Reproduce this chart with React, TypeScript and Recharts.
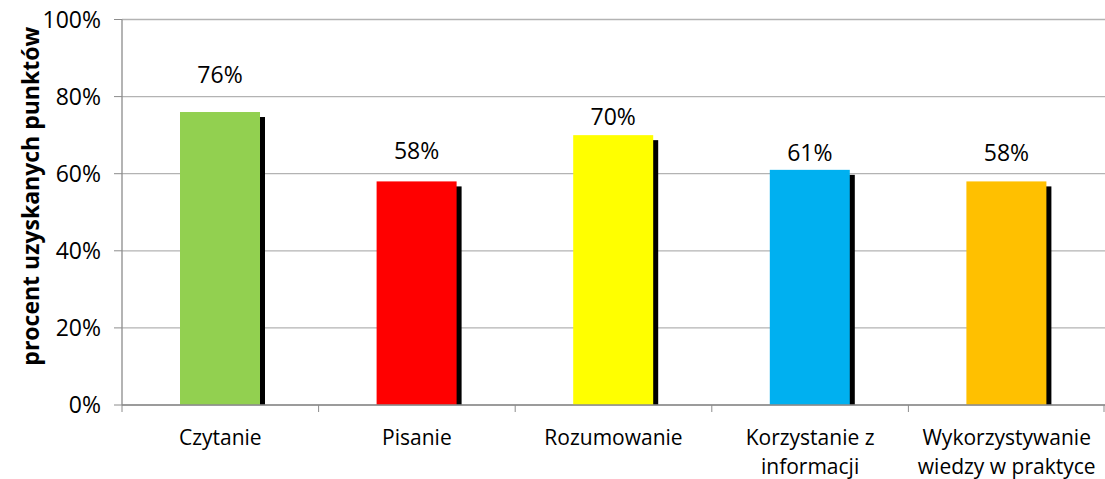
import { BarChart, Bar, XAxis, YAxis, CartesianGrid, LabelList } from "recharts";

const categories = [
  "Czytanie",
  "Pisanie",
  "Rozumowanie",
  "Korzystanie z informacji",
  "Wykorzystywanie wiedzy w praktyce",
];
const values = [76, 58, 70, 61, 58];
const colors = ["#92D050", "#FF0000", "#FFFF00", "#00B0F0", "#FFC000"];
const yTicks = [0, 20, 40, 60, 80, 100];

// Excel placed the value labels by hand, so each one sits at its own height
const labelLift = [38, 31, 19, 18, 29];

const data = categories.map((name, i) => ({ name, value: values[i], color: colors[i] }));

const W = 1105;
const H = 479;
const PLOT_LEFT = 122;
const BAND = (W - PLOT_LEFT) / categories.length;
const FONT = "'Open Sans', sans-serif";
const CAT_SIZE = 21;

let ctx: CanvasRenderingContext2D | null = null;
function measure(s: string) {
  if (!ctx) {
    ctx = document.createElement("canvas").getContext("2d");
    if (ctx) ctx.font = `${CAT_SIZE}px ${FONT}`;
  }
  return ctx ? ctx.measureText(s).width : s.length * CAT_SIZE * 0.55;
}

function wrap(text: string, maxWidth: number) {
  const lines: string[] = [];
  let cur = "";
  for (const w of text.split(" ")) {
    const next = cur ? `${cur} ${w}` : w;
    if (cur && measure(next) > maxWidth) {
      lines.push(cur);
      cur = w;
    } else {
      cur = next;
    }
  }
  if (cur) lines.push(cur);
  return lines;
}

function ShadowBar(props: any) {
  const { x, y, width, height, payload } = props;
  const s = 5;
  return (
    <g>
      <rect x={x + s} y={y + s} width={width} height={Math.max(height - s, 0)} fill="#000" />
      <rect x={x} y={y} width={width} height={height} fill={payload.color} />
    </g>
  );
}

function CategoryTick(props: any) {
  const { x, y, payload, index } = props;
  const last = index === categories.length - 1;
  const lines = wrap(payload.value, 185);
  return (
    <g>
      <line x1={x - BAND / 2} x2={x - BAND / 2} y1={y - 8} y2={y - 1} stroke="#8c8c8c" />
      {last && <line x1={x + BAND / 2 - 1} x2={x + BAND / 2 - 1} y1={y - 8} y2={y - 1} stroke="#8c8c8c" />}
      <text x={x} y={y + 32} textAnchor="middle" fontSize={CAT_SIZE} fontFamily={FONT} fill="#000">
        {lines.map((l, i) => (
          <tspan key={i} x={x} dy={i === 0 ? 0 : 29}>
            {l}
          </tspan>
        ))}
      </text>
    </g>
  );
}

function ValueLabel(props: any) {
  const { x, y, width, value, index } = props;
  return (
    <text
      x={x + width / 2}
      y={y - labelLift[index]}
      textAnchor="middle"
      dominantBaseline="central"
      fontSize={23}
      fontFamily={FONT}
      fill="#000"
    >
      {value}%
    </text>
  );
}

function AxisTitle(props: any) {
  const { viewBox } = props;
  const cx = 30;
  const cy = viewBox.y + viewBox.height / 2 - 16;
  return (
    <text
      x={cx}
      y={cy}
      transform={`rotate(-90, ${cx}, ${cy})`}
      textAnchor="middle"
      dominantBaseline="central"
      fontSize={23}
      fontWeight={700}
      fontFamily={FONT}
      fill="#000"
    >
      procent uzyskanych punktów
    </text>
  );
}

export default function App() {
  return (
    <div style={{ position: "absolute", left: 0, top: 0, background: "#fff" }}>
      <BarChart
        width={W}
        height={H}
        data={data}
        margin={{ top: 19.5, right: 0, left: 0, bottom: 0 }}
        barSize={80}
      >
        <CartesianGrid vertical={false} stroke="#b3b3b3" strokeWidth={1.3} />
        <XAxis
          dataKey="name"
          axisLine={{ stroke: "#8c8c8c", strokeWidth: 1.3 }}
          tickLine={false}
          tick={<CategoryTick />}
          interval={0}
          height={74}
        />
        <YAxis
          domain={[0, 100]}
          ticks={yTicks}
          width={PLOT_LEFT}
          tickFormatter={(v) => `${v}%`}
          axisLine={{ stroke: "#8c8c8c", strokeWidth: 1.3 }}
          tickLine={{ stroke: "#8c8c8c" }}
          tickSize={8}
          tickMargin={13}
          tick={{ fontSize: 23, fontFamily: FONT, fill: "#000" }}
          label={<AxisTitle />}
        />
        <Bar dataKey="value" shape={<ShadowBar />} isAnimationActive={false}>
          <LabelList dataKey="value" content={<ValueLabel />} />
        </Bar>
      </BarChart>
    </div>
  );
}
